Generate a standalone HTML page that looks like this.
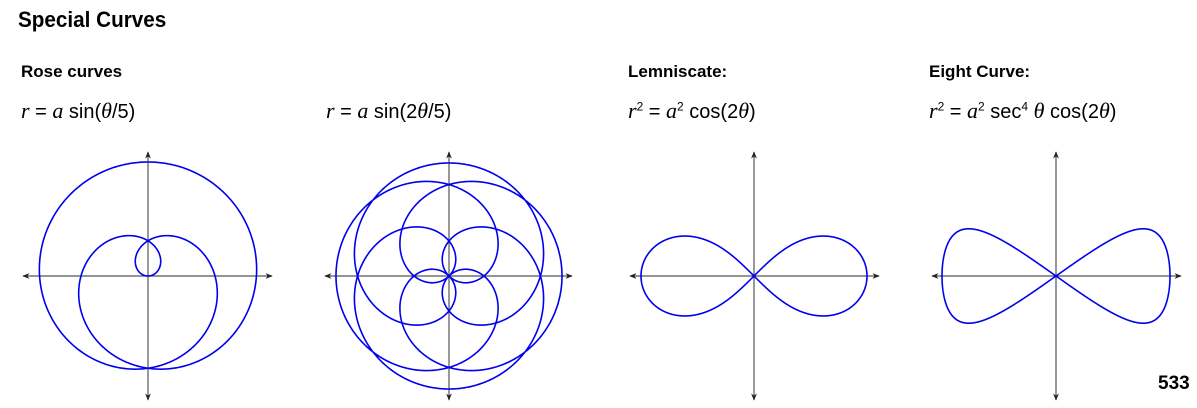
<!DOCTYPE html>
<html><head><meta charset="utf-8"><style>
html,body{margin:0;padding:0;background:#fff;}
body{width:1197px;height:408px;position:relative;overflow:hidden;font-family:"Liberation Sans",sans-serif;}
.t{position:absolute;white-space:nowrap;color:#000;}
.h1{font-weight:bold;font-size:22px;left:18px;top:7px;transform:scaleX(0.94);transform-origin:0 0;}
.h2{font-weight:bold;font-size:17px;top:62px;}
.f{font-size:20px;top:98px;}
.f i{font-family:"Liberation Serif",serif;font-size:22px;}
.pg{font-weight:bold;font-size:19px;left:1158px;top:373px;}
svg{position:absolute;left:0;top:0;}
</style></head><body>
<div class="t h1">Special Curves</div>
<div class="t h2" style="left:21px">Rose curves</div>
<div class="t h2" style="left:628px">Lemniscate:</div>
<div class="t h2" style="left:929px">Eight Curve:</div>
<div class="t f" style="left:21px"><i>r</i> = <i>a</i> sin(<i>θ</i>/5)</div>
<div class="t f" style="left:326px"><i>r</i> = <i>a</i> sin(2<i>θ</i>/5)</div>
<div class="t f" style="left:628px"><i>r</i><sup style="font-size:12px">2</sup> = <i>a</i><sup style="font-size:12px">2</sup> cos(2<i>θ</i>)</div>
<div class="t f" style="left:929px"><i>r</i><sup style="font-size:12px">2</sup> = <i>a</i><sup style="font-size:12px">2</sup> sec<sup style="font-size:12px">4</sup> <i>θ</i> cos(2<i>θ</i>)</div>
<div class="t pg">533</div>
<svg id="s" width="1197" height="408" xmlns="http://www.w3.org/2000/svg">
<defs><marker id="a" viewBox="0 0 10 10" refX="9" refY="5" markerWidth="6" markerHeight="6" orient="auto-start-reverse"><path d="M0,1 L10,5 L0,9 L3,5 z" fill="#222"/></marker></defs>
<g stroke="#555" stroke-width="1.2" marker-start="url(#a)" marker-end="url(#a)">
<line x1="23" y1="276" x2="272" y2="276"/><line x1="148" y1="152" x2="148" y2="400"/>
<line x1="325" y1="276" x2="572" y2="276"/><line x1="449" y1="152" x2="449" y2="400"/>
<line x1="630" y1="276" x2="879" y2="276"/><line x1="754" y1="152" x2="754" y2="400"/>
<line x1="932" y1="276" x2="1181" y2="276"/><line x1="1056" y1="152" x2="1056" y2="400"/>
</g>
<g id="c" fill="none" stroke="#0000ee" stroke-width="1.6"></g>
</svg>
<script>
function mp(pts,ox,oy,s){
 var d="",m=true;
 pts.forEach(function(p){if(!p){m=true;return;}d+=(m?"M":"L")+(ox+p[0]*s).toFixed(2)+","+(oy-p[1]*s).toFixed(2);m=false;});
 return d;
}
var g=document.getElementById("c"),ds=[];
var p=[],N=3000,i,t,r;
for(i=0;i<=N;i++){t=10*Math.PI*i/N;r=Math.sin(t/5);p.push([r*Math.cos(t),r*Math.sin(t)]);}
ds.push(mp(p,148,276,114));
p=[];var c45=Math.SQRT1_2;
for(i=0;i<=N;i++){t=10*Math.PI*i/N;r=Math.sin(2*t/5);var x=r*Math.cos(t),y=r*Math.sin(t);p.push([c45*(x+y),c45*(y-x)]);}
ds.push(mp(p,449,276,113));
p=[];for(i=0;i<=N;i++){t=2*Math.PI*i/N;var s=Math.sin(t),c=Math.cos(t),dd=1+s*s;p.push([c/dd,s*c/dd]);}
ds.push(mp(p,754,276,113));
p=[];
for(i=0;i<=N;i++){var u=-Math.PI/2+Math.PI*i/N;t=Math.PI/4*Math.sin(u);var q=Math.sqrt(Math.max(0,Math.cos(2*t)));p.push([q/Math.cos(t),q*Math.tan(t)]);}
for(i=0;i<=N;i++){var u=-Math.PI/2+Math.PI*i/N;t=Math.PI/4*Math.sin(u);var q=Math.sqrt(Math.max(0,Math.cos(2*t)));p.push([-q/Math.cos(t),-q*Math.tan(t)]);}
ds.push(mp(p,1056,276,114));
ds.forEach(function(d){var e=document.createElementNS("http://www.w3.org/2000/svg","path");e.setAttribute("d",d);g.appendChild(e);});
</script>
</body></html>
